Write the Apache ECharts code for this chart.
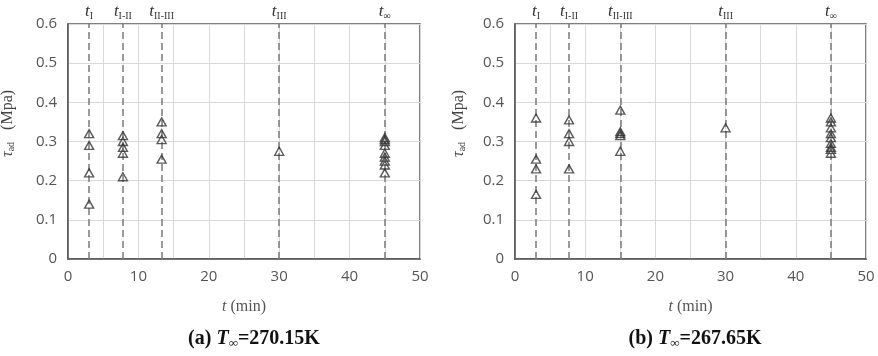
<!DOCTYPE html>
<html>
<head>
<meta charset="utf-8">
<script src="https://cdn.jsdelivr.net/npm/echarts@6/dist/echarts.min.js"></script>
<style>
html, body { margin: 0; padding: 0; background: #fff; }
#chart { width: 878px; height: 356px; }
</style>
</head>
<body>
<div id="chart"></div>
<script>
// stage names shown over the dashed lines
const stageSubs = ['I', 'I-II', 'II-III', 'III', '∞']

// (a) T∞=270.15K
const stageTimesA = [3, 7.8, 13.3, 30, 45]
const aStageI = [0.32, 0.29, 0.22, 0.14]
const aStageI_II = [0.315, 0.30, 0.285, 0.27, 0.21]
const aStageII_III = [0.35, 0.32, 0.305, 0.255]
const aStageIII = [0.275]
const aStageInf = [0.31, 0.305, 0.30, 0.29, 0.27, 0.26, 0.25, 0.24, 0.22]

// (b) T∞=267.65K
const stageTimesB = [3, 7.7, 15, 30, 45]
const bStageI = [0.36, 0.255, 0.23, 0.165]
const bStageI_II = [0.355, 0.32, 0.30, 0.23]
const bStageII_III = [0.38, 0.325, 0.32, 0.315, 0.275]
const bStageIII = [0.335]
const bStageInf = [0.36, 0.35, 0.335, 0.32, 0.31, 0.295, 0.285, 0.28, 0.27]

const xTicks = [0, 10, 20, 30, 40, 50]
const yTicks = [0, 0.1, 0.2, 0.3, 0.4, 0.5, 0.6]

const serif = 'Liberation Serif'
const sans = 'Open Sans'

function points(times, groups) {
  const out = []
  groups.forEach((vals, i) => {
    vals.forEach(v => out.push([times[i], v]))
  })
  return out
}

function xAxisOf(idx) {
  return {
    gridIndex: idx,
    type: 'value',
    min: 0,
    max: 50,
    interval: 5,
    name: '{i|t} (min)',
    nameLocation: 'middle',
    nameGap: 40,
    nameTextStyle: {
      fontFamily: serif, fontSize: 16, color: '#555',
      rich: { i: { fontFamily: serif, fontStyle: 'italic', fontSize: 16, color: '#555' } }
    },
    axisLine: { lineStyle: { color: '#555', width: 1.5 } },
    axisTick: { show: false },
    axisLabel: {
      fontFamily: sans, fontSize: 15, color: '#555', margin: 10,
      formatter: v => (xTicks.indexOf(v) >= 0 ? String(v) : '')
    },
    splitLine: { show: true, lineStyle: { color: '#d9d9d9', width: 1 } }
  }
}

function yAxisOf(idx, gap) {
  return {
    gridIndex: idx,
    type: 'value',
    min: 0,
    max: 0.6,
    interval: 0.1,
    name: '{i|τ}{s|ad}   (Mpa)',
    nameLocation: 'middle',
    nameRotate: 90,
    nameGap: gap,
    nameTextStyle: {
      fontFamily: serif, fontSize: 16, color: '#444',
      padding: [0, 0, 0, 36],
      rich: {
        i: { fontFamily: serif, fontStyle: 'italic', fontSize: 16, color: '#444' },
        s: { fontFamily: serif, fontSize: 10, color: '#444', verticalAlign: 'bottom', padding: [7, 0, 0, 0] }
      }
    },
    axisLine: { show: true, lineStyle: { color: '#555', width: 1.5 } },
    axisTick: { show: false },
    axisLabel: {
      fontFamily: sans, fontSize: 15, color: '#555', margin: 11,
      formatter: v => {
        const r = Math.round(v * 10) / 10
        return yTicks.indexOf(r) >= 0 ? String(r) : ''
      }
    },
    splitLine: { show: true, lineStyle: { color: '#d9d9d9', width: 1 } }
  }
}

function seriesOf(idx, times, groups) {
  return {
    type: 'scatter',
    xAxisIndex: idx,
    yAxisIndex: idx,
    symbol: 'triangle',
    symbolSize: [9, 8],
    itemStyle: { color: 'rgba(255,255,255,0)', borderColor: '#333', borderWidth: 1.4 },
    data: points(times, groups),
    z: 5,
    markLine: {
      silent: true,
      symbol: 'none',
      lineStyle: { color: '#7a7a7a', type: [7, 4], width: 1.5 },
      label: {
        show: true,
        position: 'end',
        distance: 3,
        formatter: p => '{t|t}{s|' + stageSubs[p.dataIndex] + '}',
        rich: {
          t: { fontFamily: serif, fontStyle: 'italic', fontSize: 17, color: '#333' },
          s: { fontFamily: serif, fontSize: 10, color: '#333', verticalAlign: 'bottom', padding: [8, 0, 0, 0] }
        }
      },
      data: times.map(t => ({ xAxis: t }))
    }
  }
}

const captionRich = {
  b: { fontFamily: serif, fontWeight: 'bold', fontSize: 20, color: '#111' },
  i: { fontFamily: serif, fontWeight: 'bold', fontStyle: 'italic', fontSize: 20, color: '#111' },
  s: { fontFamily: serif, fontWeight: 'bold', fontSize: 13, color: '#111', verticalAlign: 'bottom', padding: [10, 0, 0, 0] }
}

const option = {
  animation: false,
  backgroundColor: '#fff',
  title: [
    {
      text: '{b|(a) }{i|T}{s|∞}{b|=270.15K}',
      left: 249, top: 322, textAlign: 'center',
      textStyle: { rich: captionRich }
    },
    {
      text: '{b|(b) }{i|T}{s|∞}{b|=267.65K}',
      left: 690, top: 322, textAlign: 'center',
      textStyle: { rich: captionRich }
    }
  ],
  grid: [
    { left: 68, right: 458, top: 24, bottom: 97, outerBoundsMode: 'none', show: true, borderColor: '#555', borderWidth: 1.5 },
    { left: 515, right: 12, top: 24, bottom: 97, outerBoundsMode: 'none', show: true, borderColor: '#555', borderWidth: 1.5 }
  ],
  xAxis: [xAxisOf(0), xAxisOf(1)],
  yAxis: [yAxisOf(0, 52), yAxisOf(1, 48)],
  series: [
    seriesOf(0, stageTimesA, [aStageI, aStageI_II, aStageII_III, aStageIII, aStageInf]),
    seriesOf(1, stageTimesB, [bStageI, bStageI_II, bStageII_III, bStageIII, bStageInf])
  ]
}

const chart = echarts.init(document.getElementById('chart'))
chart.setOption(option)
</script>
</body>
</html>
